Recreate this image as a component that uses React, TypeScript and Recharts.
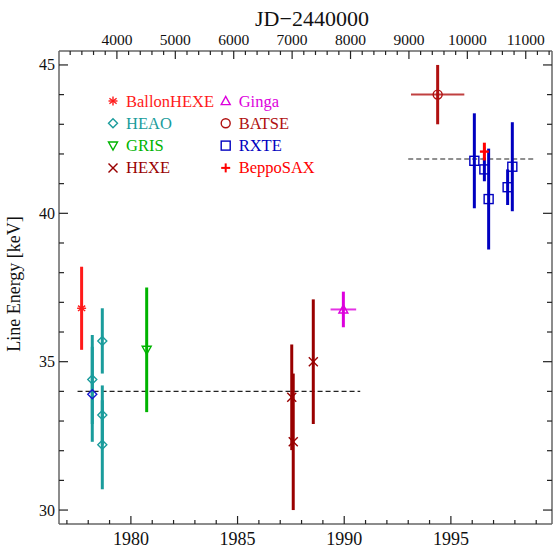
import { ComposedChart, Scatter, ErrorBar, XAxis, YAxis, ReferenceLine, Legend } from 'recharts'

const FONT = '"Liberation Serif", "DejaVu Serif", serif'

// decimal years, line energies [keV], 1-sigma errors
const ballonYear = [1977.69]
const ballonE = [36.8]
const ballonErr = [1.4]

const heaoYear = [1978.19, 1978.66, 1978.66, 1978.66]
const heaoE = [34.4, 35.7, 33.2, 32.2]
const heaoErr = [1.5, 1.1, 1.0, 1.5]

const heao2Year = [1978.19]
const heao2E = [33.9]
const heao2Err = [1.6]

const grisYear = [1980.74]
const grisE = [35.4]
const grisErr = [2.1]

const hexeYear = [1987.54, 1987.61, 1988.55]
const hexeE = [33.8, 32.3, 35.0]
const hexeErr = [1.78, 2.3, 2.1]

const gingaYear = [1989.96]
const gingaE = [36.76]
const gingaErr = [0.6]
const gingaXErr = [0.6]

const batseYear = [1994.38]
const batseE = [44.0]
const batseErr = [1.0]
const batseXErr = [1.25]

const rxteYear = [1996.1, 1996.57, 1996.77, 1997.66, 1997.88]
const rxteE = [41.77, 41.48, 40.48, 40.88, 41.57]
const rxteErr = [1.6, 0.4, 1.7, 0.6, 1.5]

const beppoYear = [1996.57]
const beppoE = [42.08]
const beppoErr = [0.3]
const beppoXErr = [0.2]

// mean line energies before / after the jump
const meanLow = { from: 1977.5, to: 1990.75, e: 34.0 }
const meanHigh = { from: 1993.0, to: 1998.9, e: 41.83 }

const yearDomain = [1976.63, 1999.74]
const energyDomain = [29.53, 45.47]
const toJD = (yr: number) => 4239.5 + (yr - 1980) * 365.25

const yearTicks = Array.from({ length: 23 }, (_, i) => 1977 + i)
const jdTicks = Array.from({ length: 42 }, (_, i) => 3200 + i * 200)
const energyTicks = Array.from({ length: 16 }, (_, i) => 30 + i)

const pts = (xs: number[], ys: number[], ey: number[], ex?: number[]) =>
    xs.map((x, i) => ({ x, y: ys[i], ey: ey[i], ex: ex ? ex[i] : 0 }))

type Kind = 'asterisk' | 'diamond' | 'tridown' | 'cross' | 'triup' | 'circle' | 'square' | 'plus'

function Glyph({ kind, cx, cy, color }: { kind: Kind; cx: number; cy: number; color: string }) {
    const s = 4.5
    const common = { stroke: color, strokeWidth: 1.4, fill: 'none' }
    switch (kind) {
        case 'asterisk':
            return (
                <g {...common}>
                    <line x1={cx} y1={cy - s} x2={cx} y2={cy + s} />
                    <line x1={cx - s} y1={cy} x2={cx + s} y2={cy} />
                    <line x1={cx - s * 0.8} y1={cy - s * 0.6} x2={cx + s * 0.8} y2={cy + s * 0.6} />
                    <line x1={cx - s * 0.8} y1={cy + s * 0.6} x2={cx + s * 0.8} y2={cy - s * 0.6} />
                </g>
            )
        case 'diamond':
            return <polygon {...common} points={`${cx},${cy - s} ${cx + s},${cy} ${cx},${cy + s} ${cx - s},${cy}`} />
        case 'tridown':
            return <polygon {...common} points={`${cx - s},${cy - s * 0.8} ${cx + s},${cy - s * 0.8} ${cx},${cy + s}`} />
        case 'triup':
            return <polygon {...common} points={`${cx - s},${cy + s * 0.8} ${cx + s},${cy + s * 0.8} ${cx},${cy - s}`} />
        case 'cross':
            return (
                <g {...common}>
                    <line x1={cx - s} y1={cy - s} x2={cx + s} y2={cy + s} />
                    <line x1={cx - s} y1={cy + s} x2={cx + s} y2={cy - s} />
                </g>
            )
        case 'circle':
            return <circle {...common} cx={cx} cy={cy} r={s} />
        case 'square':
            return <rect {...common} x={cx - s} y={cy - s} width={2 * s} height={2 * s} />
        case 'plus':
            return (
                <g {...common} strokeWidth={2}>
                    <line x1={cx} y1={cy - s} x2={cx} y2={cy + s} />
                    <line x1={cx - s} y1={cy} x2={cx + s} y2={cy} />
                </g>
            )
    }
}

const series = [
    { name: 'BallonHEXE', kind: 'asterisk' as Kind, color: '#ff1a1a', bar: '#ff1a1a', data: pts(ballonYear, ballonE, ballonErr) },
    { name: 'HEAO', kind: 'diamond' as Kind, color: '#1a9c9c', bar: '#1a9c9c', data: pts(heaoYear, heaoE, heaoErr) },
    { name: 'HEAO2', kind: 'diamond' as Kind, color: '#1515d0', bar: '#1a9c9c', data: pts(heao2Year, heao2E, heao2Err) },
    { name: 'GRIS', kind: 'tridown' as Kind, color: '#00b400', bar: '#00b400', data: pts(grisYear, grisE, grisErr) },
    { name: 'HEXE', kind: 'cross' as Kind, color: '#990000', bar: '#990000', data: pts(hexeYear, hexeE, hexeErr) },
    { name: 'Ginga', kind: 'triup' as Kind, color: '#dd00dd', bar: '#dd00dd', xbar: true, data: pts(gingaYear, gingaE, gingaErr, gingaXErr) },
    { name: 'BATSE', kind: 'circle' as Kind, color: '#b01010', bar: '#b01010', xbar: true, data: pts(batseYear, batseE, batseErr, batseXErr) },
    { name: 'RXTE', kind: 'square' as Kind, color: '#0000c0', bar: '#0000c0', data: pts(rxteYear, rxteE, rxteErr) },
    { name: 'BeppoSAX', kind: 'plus' as Kind, color: '#ff0000', bar: '#ff0000', xbar: true, data: pts(beppoYear, beppoE, beppoErr, beppoXErr) },
]

// same points on the JD / right axes, so those axes get a domain and draw their ticks
const jdPoints = series.flatMap((s) => s.data.map((d) => ({ jd: toJD(d.x), y: d.y })))

const legendCols = [
    ['BallonHEXE', 'HEAO', 'GRIS', 'HEXE'],
    ['Ginga', 'BATSE', 'RXTE', 'BeppoSAX'],
]

const TICK = '#222'

function BottomTick({ x, y, payload }: any) {
    const major = payload.value % 5 === 0
    return (
        <g>
            <line x1={x} x2={x} y1={y} y2={y - (major ? 8 : 4)} stroke={TICK} strokeWidth={1.2} />
            {major && (
                <text x={x} y={y + 21} textAnchor="middle" fontFamily={FONT} fontSize={18} fill="#111">
                    {payload.value}
                </text>
            )}
        </g>
    )
}

function TopTick({ x, y, payload }: any) {
    const major = payload.value % 1000 === 0
    return (
        <g>
            <line x1={x} x2={x} y1={y} y2={y + (major ? 8 : 4)} stroke={TICK} strokeWidth={1.2} />
            {major && (
                <text x={x} y={y - 6.5} textAnchor="middle" fontFamily={FONT} fontSize={15.5} fill="#111">
                    {payload.value}
                </text>
            )}
        </g>
    )
}

function LeftTick({ x, y, payload }: any) {
    const major = payload.value % 5 === 0
    return (
        <g>
            <line x1={x} x2={x + (major ? 9 : 5)} y1={y} y2={y} stroke={TICK} strokeWidth={1.2} />
            {major && (
                <text x={x - 4} y={y + 5.5} textAnchor="end" fontFamily={FONT} fontSize={16} fill="#111">
                    {payload.value}
                </text>
            )}
        </g>
    )
}

function RightTick({ x, y, payload }: any) {
    const major = payload.value % 5 === 0
    return <line x1={x} x2={x - (major ? 9 : 5)} y1={y} y2={y} stroke={TICK} strokeWidth={1.2} />
}

function LegendBox() {
    return (
        <svg width={270} height={92}>
            {legendCols.map((col, ci) =>
                col.map((name, ri) => {
                    const s = series.find((d) => d.name === name)!
                    const gx = ci === 0 ? 13 : 125.7
                    const cy = 13 + ri * 22.3
                    return (
                        <g key={name}>
                            <Glyph kind={s.kind} cx={gx} cy={cy} color={s.color} />
                            <text x={gx + 13} y={cy + 5.5} fontFamily={FONT} fontSize={16.5} fill={s.color}>
                                {name}
                            </text>
                        </g>
                    )
                })
            )}
        </svg>
    )
}

export default function App() {
    return (
        <div style={{ position: 'absolute', left: 0, top: 0 }}>
            <ComposedChart width={553} height={549} margin={{ top: 0, right: 0, bottom: 0, left: 0 }}>
                <XAxis
                    xAxisId="yr"
                    dataKey="x"
                    type="number"
                    domain={yearDomain}
                    allowDataOverflow
                    ticks={yearTicks}
                    interval={0}
                    height={25}
                    tickSize={0}
                    tickMargin={0}
                    tick={<BottomTick />}
                    axisLine={{ stroke: '#666', strokeWidth: 1.5 }}
                />
                <XAxis
                    xAxisId="jd"
                    dataKey="jd"
                    orientation="top"
                    type="number"
                    domain={[toJD(yearDomain[0]), toJD(yearDomain[1])]}
                    allowDataOverflow
                    ticks={jdTicks}
                    interval={0}
                    height={51}
                    tickSize={0}
                    tickMargin={0}
                    tick={<TopTick />}
                    axisLine={{ stroke: '#666', strokeWidth: 1.5 }}
                    label={() => (
                        <text x={312} y={25.5} textAnchor="middle" fontFamily={FONT} fontSize={22} fill="#111">
                            JD−2440000
                        </text>
                    )}
                />
                <YAxis
                    yAxisId="e"
                    dataKey="y"
                    type="number"
                    domain={energyDomain}
                    allowDataOverflow
                    ticks={energyTicks}
                    interval={0}
                    width={59}
                    tickSize={0}
                    tickMargin={0}
                    tick={<LeftTick />}
                    axisLine={{ stroke: '#666', strokeWidth: 1.5 }}
                    label={() => (
                        <text x={20} y={284} textAnchor="middle" fontFamily={FONT} fontSize={18} fill="#111" transform="rotate(-90 20 284)">
                            Line Energy [keV]
                        </text>
                    )}
                />
                <YAxis
                    yAxisId="r"
                    dataKey="y"
                    orientation="right"
                    type="number"
                    domain={energyDomain}
                    allowDataOverflow
                    ticks={energyTicks}
                    interval={0}
                    width={1}
                    tickSize={0}
                    tickMargin={0}
                    tick={<RightTick />}
                    axisLine={{ stroke: '#666', strokeWidth: 1.5 }}
                />
                <Legend layout="horizontal" verticalAlign="middle" content={() => <LegendBox />} wrapperStyle={{ left: 100, top: 88, width: 270, height: 92 }} />
                <Scatter
                    name="jd-anchor"
                    data={jdPoints}
                    xAxisId="jd"
                    yAxisId="r"
                    isAnimationActive={false}
                    legendType="none"
                    shape={() => <g />}
                />
                {[meanLow, meanHigh].map((m, i) => (
                    <ReferenceLine
                        key={i}
                        xAxisId="yr"
                        yAxisId="e"
                        segment={[{ x: m.from, y: m.e }, { x: m.to, y: m.e }]}
                        stroke="#222"
                        strokeWidth={1.2}
                        strokeDasharray="5 3"
                    />
                ))}
                {series.map((s) => (
                    <Scatter
                        key={s.name}
                        name={s.name}
                        data={s.data}
                        xAxisId="yr"
                        yAxisId="e"
                        isAnimationActive={false}
                        shape={(p: any) => <Glyph kind={s.kind} cx={p.cx} cy={p.cy} color={s.color} />}
                    >
                        {s.xbar && <ErrorBar dataKey="ex" direction="x" width={0} stroke={s.bar} strokeWidth={2} strokeOpacity={0.8} isAnimationActive={false} />}
                        <ErrorBar dataKey="ey" direction="y" width={0} stroke={s.bar} strokeWidth={3} isAnimationActive={false} />
                    </Scatter>
                ))}
            </ComposedChart>
        </div>
    )
}
